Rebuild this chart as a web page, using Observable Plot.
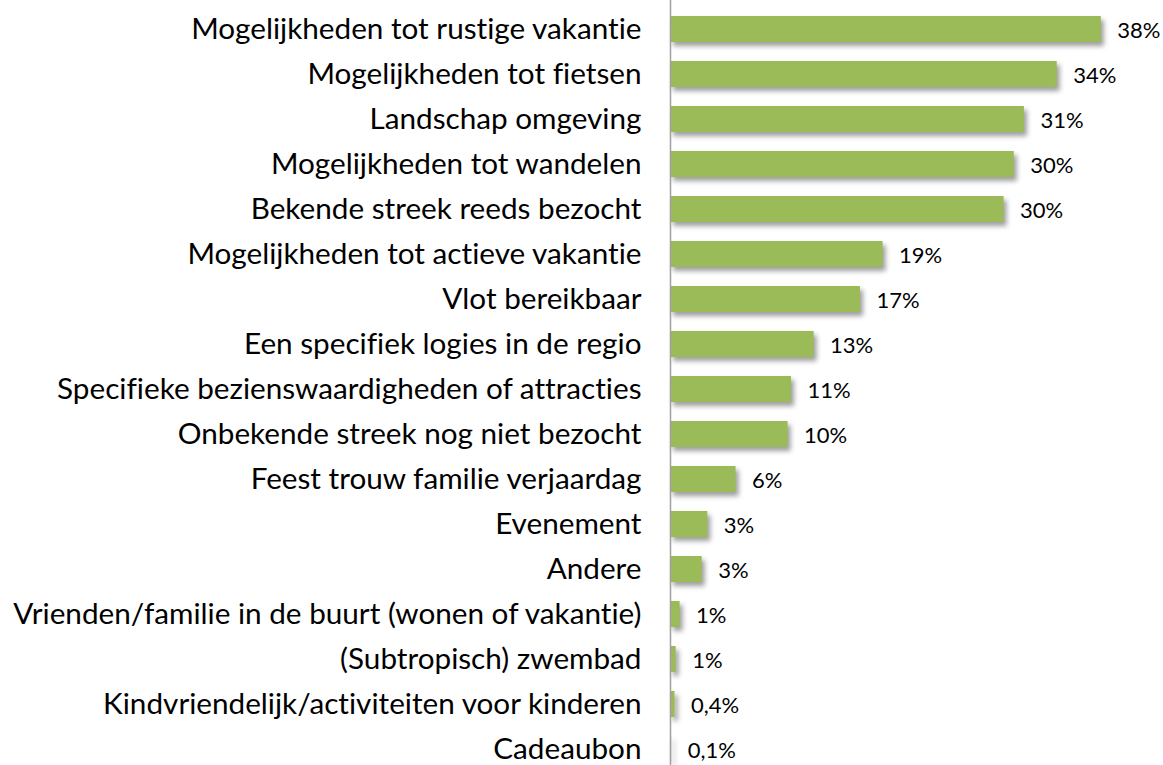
<!DOCTYPE html>
<html><head><meta charset="utf-8">
<script src="https://cdn.jsdelivr.net/npm/d3@7"></script>
<script src="https://cdn.jsdelivr.net/npm/@observablehq/plot@0.6"></script>
<style>
body{margin:0;background:#fff;}
#chart svg text{font-variant-ligatures:none;font-feature-settings:"liga" 0,"clig" 0;}
#chart svg g[aria-label="bar"] rect{filter:drop-shadow(3px 4px 2.5px rgba(0,0,0,0.38));}
</style></head><body><div id="chart"></div>
<script>
const categories = [
  "Mogelijkheden tot rustige vakantie",
  "Mogelijkheden tot fietsen",
  "Landschap omgeving",
  "Mogelijkheden tot wandelen",
  "Bekende streek reeds bezocht",
  "Mogelijkheden tot actieve vakantie",
  "Vlot bereikbaar",
  "Een specifiek logies in de regio",
  "Specifieke bezienswaardigheden of attracties",
  "Onbekende streek nog niet bezocht",
  "Feest trouw familie verjaardag",
  "Evenement",
  "Andere",
  "Vrienden/familie in de buurt (wonen of vakantie)",
  "(Subtropisch) zwembad",
  "Kindvriendelijk/activiteiten voor kinderen",
  "Cadeaubon"
];
const values = [38.1, 34.2, 31.3, 30.4, 29.5, 18.8, 16.8, 12.7, 10.7, 10.4, 5.8, 3.3, 2.8, 0.85, 0.5, 0.4, 0.1];
const valueLabels = ["38%", "34%", "31%", "30%", "30%", "19%", "17%", "13%", "11%", "10%", "6%", "3%", "3%", "1%", "1%", "0,4%", "0,1%"];

const data = categories.map((c, i) => ({category: c, value: values[i], label: valueLabels[i]}));

const chart = Plot.plot({
  width: 1163,
  height: 765,
  marginLeft: 670,
  marginRight: 0,
  marginTop: 0,
  marginBottom: 0,
  style: {fontFamily: "Lato, sans-serif", background: "#fff", color: "#000"},
  x: {domain: [0, 43.6], axis: null},
  y: {domain: categories, range: [4.4, 772.6], paddingInner: 0.425, paddingOuter: 0.2125, align: 0.5, axis: null},
  marks: [
    Plot.barX(data, {y: "category", x: "value", fill: "#9bbb59"}),
    Plot.ruleX([0], {stroke: "#a0a0a0", strokeWidth: 1.5}),
    Plot.text(data, {y: "category", x: "value", text: "label", textAnchor: "start", dx: 16, dy: 1, fontSize: 22, fill: "#000"}),
    Plot.axisY({tickSize: 0, tickPadding: 29, fontSize: 29.7, fill: "#000", label: null})
  ]
});
document.getElementById("chart").appendChild(chart);
</script>
</body></html>
